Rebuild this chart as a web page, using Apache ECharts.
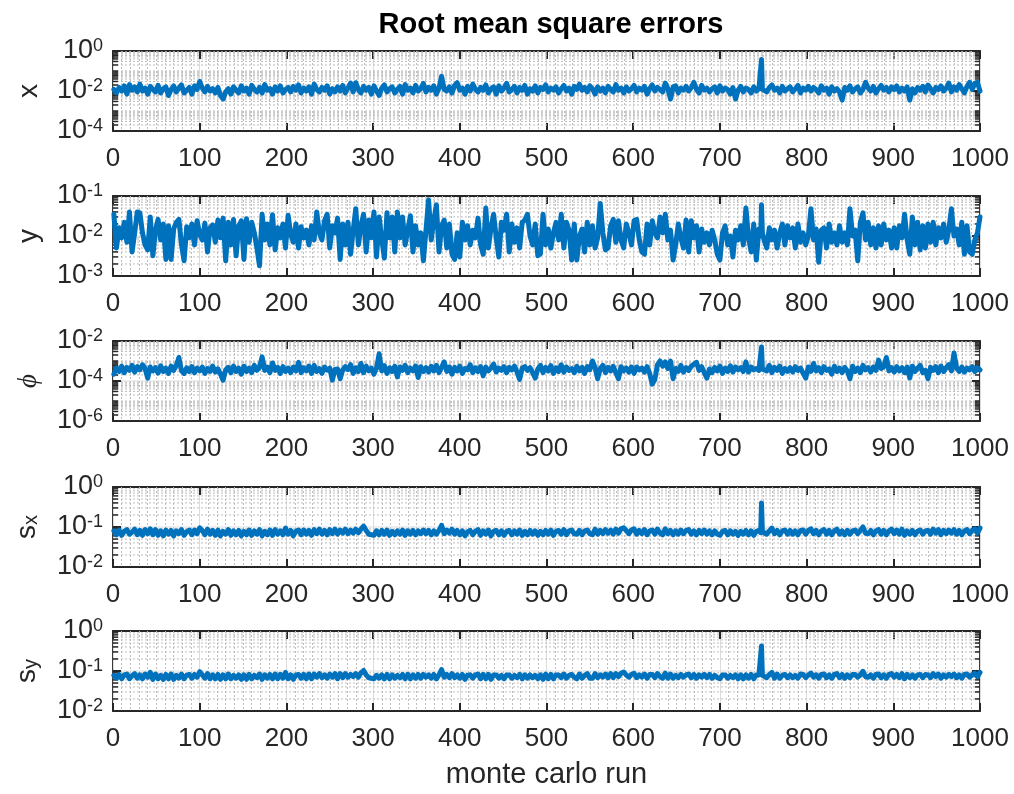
<!DOCTYPE html>
<html>
<head>
<meta charset="utf-8">
<script src="https://cdn.jsdelivr.net/npm/echarts@6/dist/echarts.min.js"></script>
<style>
  html, body { margin: 0; padding: 0; background: #fff; }
  #chart-container { width: 1014px; height: 794px; }
</style>
</head>
<body>
<div id="chart-container"></div>
<script>
// monte carlo run of every sample
var runs = [
  1,4,7,10,13,16,19,22,25,28, 31,34,37,40,43,46,49,52,55,58,
  61,64,67,70,73,76,79,82,85,88, 91,94,97,100,103,106,109,112,115,118,
  121,124,127,130,133,136,139,142,145,148, 151,154,157,160,163,166,169,172,175,178,
  181,184,187,190,193,196,199,202,205,208, 211,214,217,220,223,226,229,232,235,238,
  241,244,247,250,253,256,259,262,265,268, 271,274,277,280,283,286,289,292,295,298,
  301,304,307,310,313,316,319,322,325,328, 331,334,337,340,343,346,349,352,355,358,
  361,364,367,370,373,376,379,382,385,388, 391,394,397,400,403,406,409,412,415,418,
  421,424,427,430,433,436,439,442,445,448, 451,454,457,460,463,466,469,472,475,478,
  481,484,487,490,493,496,499,502,505,508, 511,514,517,520,523,526,529,532,535,538,
  541,544,547,550,553,556,559,562,565,568, 571,574,577,580,583,586,589,592,595,598,
  601,604,607,610,613,616,619,622,625,628, 631,634,637,640,643,646,649,652,655,658,
  661,664,667,670,673,676,679,682,685,688, 691,694,697,700,703,706,709,712,715,718,
  721,724,727,730,733,736,739,742,745,747,748,749, 751,754,757,760,763,766,769,772,775,778,
  781,784,787,790,793,796,799,802,805,808, 811,814,817,820,823,826,829,832,835,838,
  841,844,847,850,853,856,859,862,865,868, 871,874,877,880,883,886,889,892,895,898,
  901,904,907,910,913,916,919,922,925,928, 931,934,937,940,943,946,949,952,955,958,
  961,964,967,970,973,976,979,982,985,988, 991,994,997,1000];

// RMSE of x, units of 1e-3
var xErr = [
  12,8,15,10,18,7,21,11,16,9, 22,10,14,7,17,12,9,19,8,13,
  16,6,12,18,9,14,20,8,11,15, 7,18,12,30,14,9,17,10,13,8,
  15,6,4,9,13,7,16,11,8,18, 10,14,7,19,12,9,15,8,21,11,
  13,7,16,10,18,8,12,15,9,17, 11,20,8,14,10,16,7,22,12,9,
  15,11,18,7,13,9,16,10,19,8, 14,25,9,26,12,8,17,11,15,7,
  18,10,6,14,20,9,13,16,8,12, 17,7,21,11,14,8,19,10,13,24,
  9,15,11,18,7,14,55,12,10,16, 8,19,26,11,14,7,17,10,22,12,
  9,15,11,20,8,13,16,7,18,10, 14,24,9,12,17,8,15,11,19,7,
  13,10,18,8,15,12,20,9,14,11, 16,8,13,19,10,14,7,17,12,22,
  11,15,9,18,13,7,16,10,14,8, 17,12,9,21,11,14,8,16,10,13,
  19,9,14,11,17,7,13,20,10,15, 12,9,25,13,4,16,18,8,14,11,
  17,10,15,27,12,8,19,11,14,9, 13,16,8,18,10,14,12,7,15,4,
  11,17,9,14,12,8,16,10,13,11,380,12, 12,9,15,20,11,14,8,17,10,13,
  16,9,13,19,8,14,11,17,10,15, 12,8,18,11,14,7,16,10,13,9,
  3.5,15,11,18,9,13,16,8,12,27, 14,10,17,8,13,19,11,15,9,16,
  12,18,9,14,10,16,3.5,13,8,15, 11,17,9,20,13,8,15,12,18,10,
  14,25,9,16,11,21,13,8,17,27, 12,24,27,10];

// RMSE of y, units of 1e-3
var yErr = [
  35,5,16,9,22,7,40,4,12,40, 38,12,6,4.5,30,3.2,14,26,8,20,
  2.6,18,2.6,15,22,26,6,2.4,17,9, 20,6,24,11,8,21,4,16,19,7,
  25,9,28,2.4,22,6,26,3.2,18,24, 2.6,27,7,22,12,5,1.8,35,8,20,
  6,34,4.5,16,9,20,5,33,11,7, 20,5,17,9,14,6,18,8,40,12,
  8,24,35,5,18,12,28,2.6,20,6, 22,3.5,14,48,6,18,35,4,25,9,
  40,3,30,8,2.8,38,9,30,4,40, 9,30,6,14,32,4,18,6,12,2.4,
  14,80,8,25,60,4,18,25,5,20, 3.5,2.6,12,3,22,8,18,6,14,9,
  28,6,3.5,50,5,16,35,9,3,22, 14,35,4,20,7,16,5,22,25,35,
  10,6,20,3.2,3.6,35,6,15,5,12, 22,8,35,5,22,14,2.5,20,2.5,10,
  15,4,22,6,18,5,9,65,12,4.5, 5,18,26,7,24,8,5,20,12,6,
  24,26,8,4,3.5,20,6,24,12,9, 30,12,35,8,14,2.5,6,20,9,5,
  25,4,24,9,18,4,15,7,12,6, 14,8,3.5,2.5,12,18,6,10,3,14,
  8,18,6,50,9,4,20,2.5,15,10,60,12, 8,5,16,8,14,5,12,20,6,18,
  9,16,5,20,7,12,6,10,48,8, 15,2.2,14,16,5,20,7,12,6,18,
  7,12,6,48,10,14,2.4,22,38,8, 22,6,16,5,18,6,20,8,14,5,
  16,5,18,9,35,8,3.5,30,6,22, 4.5,18,5,20,7,22,6,16,9,20,
  7,14,48,10,15,6,22,3.5,18,4, 3.5,8,12,30];

// RMSE of phi, units of 1e-4
var phiErr = [
  2.2,4.5,3.0,5.5,2.6,4.8,3.4,6.0,2.8,5.2, 3.6,6.5,4.2,1.4,5.0,3.2,4.6,2.5,5.8,3.0,
  4.4,2.4,5.5,3.4,6.0,15,3.2,2.4,4.6,3.0, 5.2,2.6,4.4,3.2,5.0,2.4,4.2,3.0,5.5,2.8,
  4.0,2.2,1.1,3.6,4.8,2.6,5.5,3.0,4.4,2.2, 5.5,3.0,4.4,2.6,6.0,3.4,4.8,16,3.4,5.0,
  2.6,8,3.4,4.8,2.4,5.2,3.0,4.4,2.6,5.0, 3.2,8.5,2.6,4.6,3.2,5.5,2.4,6.0,3.0,4.2,
  2.4,5.0,3.5,4.4,1.1,3.8,4.0,1.3,3.6,5.2, 3.8,6.5,2.4,4.6,3.0,7.5,2.6,5.5,3.2,4.4,
  2.2,4.5,23,3.2,5.8,2.4,4.6,3.0,5.4,1.6, 5.0,3.4,6.0,2.6,4.4,3.2,5.6,1.5,5.2,3.0,
  4.6,2.8,5.4,3.2,6.0,2.6,4.8,9,3.0,5.0, 2.2,4.8,3.2,5.5,2.4,4.2,3.6,6.5,2.6,4.6,
  3.0,5.2,1.8,5.0,3.2,4.4,7,2.8,4.4,3.4, 5.2,2.6,4.8,3.6,5.6,2.8,1.2,4.4,5.2,3.4,
  4.6,2.6,1.4,4.0,6.0,2.6,4.8,3.2,5.8,2.4, 4.6,3.0,6.5,2.8,5.0,3.4,4.2,2.6,5.4,3.2,
  4.8,2.4,5.2,3.6,10,4.8,1.3,4.2,6.0,2.6, 4.8,3.2,5.4,2.6,1.3,5.2,3.2,4.4,2.8,5.0,
  2.4,5.0,3.6,4.4,2.8,5.2,2.4,0.7,1.2,6.5, 10,5.5,9,4.2,10,1.3,4.2,3.0,6.0,2.8,
  4.6,3.4,5.5,7,8.5,3.4,5.2,2.6,1.4,4.0, 2.6,4.8,3.2,5.5,2.4,4.4,3.0,5.8,2.8,5.0,
  3.6,4.6,3.0,9,2.8,5.0,3.6,4.2,3.4,4.2,50,4.0, 5.0,3.2,6.0,2.6,4.8,3.4,5.5,2.4,4.2,3.0,
  4.6,2.8,5.2,3.4,4.4,2.4,1.4,5.0,3.0,7.5, 3.2,4.6,2.6,5.2,3.4,4.0,2.2,5.5,3.0,4.4,
  2.6,4.8,3.2,1.3,5.5,3.0,4.4,2.6,6.0,3.6, 4.6,2.8,5.0,3.4,11,4.2,5.2,15,3.2,4.6,
  2.8,5.2,3.2,4.6,2.6,5.0,1.4,5.5,3.0,4.4, 6.0,2.6,3.4,1.3,4.8,3.4,5.2,2.6,5.6,3.0,
  4.6,6.5,3.2,25,4.4,3.0,5.0,2.8,4.4,3.6, 5.2,3.0,4.6,3.6];

// RMSE of s_x, units of 1e-2
var sxErr = [
  8.0,6.4,8.4,6.2,7.8,8.6,6.6,7.4,8.8,6.4, 8.2,6.2,8.6,6.8,9.0,6.4,8.6,6.2,8.0,6.0,
  8.4,6.6,8.2,6.0,8.0,6.8,8.6,6.2,7.6,8.4, 6.4,8.4,6.8,9.5,8.2,6.4,8.8,6.6,8.2,6.2,
  8.4,6.0,7.8,6.6,8.6,6.2,8.0,6.4,8.2,6.0, 7.8,6.4,8.4,6.2,8.0,6.6,8.6,6.0,7.8,6.4,
  8.4,6.2,8.6,6.6,8.0,6.4,9.4,6.6,8.2,6.0, 7.8,8.4,6.4,8.4,6.6,8.2,6.2,8.6,6.8,8.8,
  6.6,8.2,6.4,8.6,6.8,8.8,6.6,8.4,7.0,8.8, 6.8,8.4,7.0,8.8,7.2,8.8,10.5,8.2,6.6,6.4,
  6.2,8.0,6.4,8.2,6.6,8.4,6.2,7.8,6.4,8.0, 6.6,8.4,6.2,8.0,6.6,8.2,6.4,8.0,6.8,8.4,
  6.8,8.2,6.4,8.0,6.6,8.2,11,6.8,8.4,7.0, 8.8,6.6,8.2,6.4,8.0,6.0,7.6,8.2,6.4,7.8,
  8.6,6.2,8.0,6.6,8.4,6.0,7.8,8.2,6.4,8.0, 6.2,7.8,8.2,6.4,8.0,6.6,8.4,6.2,7.8,6.4,
  8.2,6.6,8.0,6.2,7.8,6.4,8.2,6.6,8.4,6.2, 7.8,8.2,6.6,8.6,6.4,8.0,8.4,6.8,6.6,8.2,
  6.4,8.0,8.4,6.8,6.4,8.8,6.6,8.2,6.8,8.6, 7.0,8.4,6.6,8.8,7.0,9.0,9.6,8.2,6.8,8.4,
  9.0,6.6,8.2,6.8,8.6,6.4,8.0,8.4,6.6,8.8, 7.0,6.4,9.0,6.8,8.2,6.4,8.0,6.6,8.4,6.8,
  8.2,8.6,6.6,8.0,6.4,8.2,6.8,8.4,6.6,8.0, 6.4,8.0,6.6,6.2,7.8,8.2,6.4,8.0,6.6,7.8,
  6.2,7.8,6.6,8.2,6.4,8.0,6.2,7.8,8.2,7.2,40,7.6, 8.0,6.6,8.0,9.4,6.8,8.2,6.4,8.0,8.4,6.6,
  8.2,6.6,8.0,6.4,8.2,8.4,6.6,8.2,9.0,6.8, 8.2,6.4,8.0,8.6,6.6,8.2,6.4,8.0,8.8,6.6,
  8.0,6.4,8.2,6.6,8.0,8.4,6.8,8.2,10,7.0, 6.8,8.2,6.4,8.0,8.6,6.6,8.2,6.4,8.0,8.8,
  6.8,8.4,6.6,8.8,6.2,8.0,6.6,8.2,6.4,7.8, 8.4,6.6,8.0,8.2,6.6,8.8,7.0,8.6,6.4,8.2,
  6.8,8.4,7.0,8.6,6.6,8.2,6.4,8.0,8.6,6.8, 8.2,9.0,7.0,9.4];

// RMSE of s_y, units of 1e-2
var syErr = [
  7.8,6.6,8.2,6.4,8.0,8.4,6.4,7.6,8.6,6.6, 8.0,6.4,8.4,7.0,9.2,6.2,8.4,6.4,7.8,6.2,
  8.2,6.4,8.4,6.2,7.8,6.6,8.4,6.4,7.8,8.2, 6.6,8.2,7.0,9.6,8.0,6.6,8.6,6.4,8.0,6.4,
  8.2,6.2,8.0,6.4,8.4,6.4,7.8,6.6,8.0,6.2, 8.0,6.2,8.2,6.4,7.8,6.8,8.4,6.2,8.0,6.6,
  8.2,6.4,8.4,6.4,8.2,6.6,9.2,6.4,8.0,6.2, 8.0,8.2,6.6,8.2,6.4,8.4,6.4,8.4,7.0,8.6,
  6.8,8.0,6.6,8.4,7.0,8.6,6.4,8.6,6.8,8.6, 7.0,8.2,7.2,8.6,7.0,9.0,10.3,8.0,6.8,6.6,
  6.4,7.8,6.6,8.0,6.4,8.2,6.4,8.0,6.6,7.8, 6.8,8.2,6.4,8.2,6.4,8.0,6.6,8.2,6.6,8.2,
  7.0,8.0,6.6,8.2,6.4,8.0,10.8,7.0,8.2,6.8, 8.6,6.8,8.0,6.6,8.2,6.2,7.8,8.0,6.6,8.0,
  8.4,6.4,8.2,6.4,8.2,6.2,8.0,8.0,6.6,7.8, 6.4,8.0,8.0,6.6,7.8,6.8,8.2,6.4,8.0,6.6,
  8.0,6.8,7.8,6.4,8.0,6.2,8.4,6.4,8.2,6.4, 8.0,8.0,6.8,8.4,6.6,7.8,8.2,7.0,6.4,8.4,
  6.6,7.8,8.6,6.6,6.6,8.6,6.8,8.0,7.0,8.4, 6.8,8.6,6.8,8.6,7.2,8.8,9.4,8.0,7.0,8.2,
  8.8,6.8,8.0,7.0,8.4,6.6,8.2,8.2,6.8,8.6, 7.2,6.6,8.8,6.6,8.4,6.6,7.8,6.8,8.2,7.0,
  8.0,8.4,6.8,8.2,6.6,8.0,7.0,8.2,6.8,8.2, 6.6,7.8,6.8,6.4,8.0,8.0,6.6,7.8,6.8,8.0,
  6.4,8.0,6.4,8.0,6.6,8.2,6.4,8.0,8.0,7.4,42,7.8, 7.8,6.8,8.2,9.2,6.6,8.4,6.6,7.8,8.2,6.8,
  8.0,6.8,7.8,6.6,8.4,8.2,6.8,8.0,8.8,7.0, 8.0,6.6,8.2,8.4,6.8,8.0,6.6,8.2,8.6,6.8,
  8.2,6.6,8.0,6.8,8.2,8.2,7.0,8.0,9.8,7.2, 7.0,8.0,6.6,8.2,8.4,6.8,8.0,6.6,8.2,8.6,
  7.0,8.2,6.8,8.6,6.4,8.2,6.8,8.0,6.6,8.0, 8.2,6.8,8.2,8.0,6.8,8.6,7.2,8.4,6.6,8.0,
  7.0,8.2,7.2,8.4,6.8,8.0,6.6,8.2,8.4,7.0, 8.0,8.8,7.2,9.2];

// y-axis decades (exponents), step between labelled decades, units of the arrays
var yExpMin = [-4, -3, -6, -2, -2];
var yExpMax = [0, -1, -2, 0, 0];
var yLabelStep = [2, 1, 2, 1, 1];
var yUnits = [1e-3, 1e-3, 1e-4, 1e-2, 1e-2];
var yNames = ['{n|x}', '{n|y}', '{p|\u03d5}', '{n|s}{sub|x}', '{n|s}{sub|y}'];
var seriesVals = [xErr, yErr, phiErr, sxErr, syErr];

var dom = document.getElementById('chart-container');
var myChart = echarts.init(dom, null, { renderer: 'canvas', useDirtyRect: false });

var FONT = 'Liberation Sans, Arial, Helvetica, sans-serif';
var TXT = '#262626';
var tops = [51, 196, 341, 487, 631];

var grids = [], xAxes = [], yAxes = [], series = [];

// horizontal grid lines and left/right ticks of a log axis
function tickRender(params, api) {
  var v = api.value(1);
  var major = api.value(2) === 1;
  var edge = api.value(3) === 1;
  var a = api.coord([0, v]);
  var b = api.coord([1000, v]);
  var len = major ? 8 : 5;
  var kids = [];
  if (!edge) {
    kids.push({
      type: 'line',
      shape: { x1: a[0], y1: a[1], x2: b[0], y2: b[1] },
      style: major ? { stroke: '#dcdcdc', lineWidth: 1 } : { stroke: '#bebebe', lineWidth: 1, lineDash: [2, 2] }
    });
  }
  kids.push({ type: 'line', shape: { x1: a[0], y1: a[1], x2: a[0] + len, y2: a[1] }, style: { stroke: TXT, lineWidth: major ? 2 : 1.5 } });
  kids.push({ type: 'line', shape: { x1: b[0] - len, y1: b[1], x2: b[0], y2: b[1] }, style: { stroke: TXT, lineWidth: major ? 2 : 1.5 } });
  return { type: 'group', children: kids };
}

for (var i = 0; i < 5; i++) {
  var lo = yExpMin[i], hi = yExpMax[i], step = yLabelStep[i];
  grids.push({
    left: 113, right: 34, top: tops[i], height: 80,
    containLabel: false, outerBoundsMode: 'none',
    show: true, borderColor: TXT, borderWidth: 1.8, backgroundColor: '#fff', z: 0
  });
  xAxes.push({
    type: 'value', gridIndex: i, min: 0, max: 1000, interval: 100,
    axisLine: { show: false },
    axisTick: { show: true, inside: true, length: 8, lineStyle: { color: TXT, width: 2 } },
    axisLabel: { fontSize: 26, color: TXT, fontFamily: FONT, margin: 15, formatter: function (v) { return String(v); } },
    splitLine: { show: true, lineStyle: { color: '#dcdcdc', width: 1 } },
    minorTick: { show: false, splitNumber: 10 },
    minorSplitLine: { show: true, lineStyle: { color: '#bebebe', width: 1, type: [2, 2] } },
    name: i === 4 ? 'monte carlo run' : '',
    nameLocation: 'middle', nameGap: 49,
    nameTextStyle: { fontSize: 29, color: TXT, fontFamily: FONT }
  });
  xAxes.push({
    type: 'value', gridIndex: i, min: 0, max: 1000, interval: 100, position: 'top',
    axisLine: { show: false },
    axisTick: { show: true, inside: true, length: 8, lineStyle: { color: TXT, width: 2 } },
    axisLabel: { show: false },
    splitLine: { show: false }
  });
  yAxes.push({
    type: 'log', logBase: 10, gridIndex: i,
    min: Math.pow(10, lo), max: Math.pow(10, hi),
    axisLine: { show: false },
    axisTick: { show: false },
    splitLine: { show: false },
    axisLabel: {
      margin: 10,
      formatter: (function (st) {
        return function (val) {
          var e = Math.round(Math.log(val) / Math.LN10);
          if (e % st !== 0) return '';
          return '{b|10}{e|' + e + '}';
        };
      })(step),
      rich: {
        b: { fontSize: 27, color: TXT, fontFamily: FONT, lineHeight: 28, verticalAlign: 'middle' },
        e: { fontSize: 18, color: TXT, fontFamily: FONT, lineHeight: 18, verticalAlign: 'top' }
      }
    },
    name: yNames[i], nameLocation: 'middle', nameRotate: 90, nameGap: i >= 3 ? 72 : 70,
    nameTextStyle: {
      rich: {
        n: { fontSize: 28, color: TXT, fontFamily: FONT, lineHeight: 28, verticalAlign: 'top' },
        p: { fontSize: 27, color: TXT, fontFamily: 'Liberation Serif, serif', fontStyle: 'italic', lineHeight: 28 },
        sub: { fontSize: 20, color: TXT, fontFamily: FONT, lineHeight: 20, verticalAlign: 'bottom', padding: [18, 0, 0, 0] }
      }
    }
  });

  // log ticks at 1..9 x 10^k
  var ticks = [];
  for (var e = lo; e <= hi; e++) {
    var isMajor = (e % step === 0) ? 1 : 0;
    var isEdge = (e === lo || e === hi) ? 1 : 0;
    ticks.push([0, Math.pow(10, e), isMajor, isEdge]);
    if (e < hi) {
      for (var m = 2; m <= 9; m++) ticks.push([0, m * Math.pow(10, e), 0, 0]);
    }
  }
  series.push({
    type: 'custom', xAxisIndex: 2 * i, yAxisIndex: i, silent: true, z: 1,
    renderItem: tickRender, data: ticks, encode: { x: 0, y: 1 }
  });

  var vals = seriesVals[i], unit = yUnits[i];
  series.push({
    type: 'line', xAxisIndex: 2 * i, yAxisIndex: i, z: 3,
    showSymbol: false, symbol: 'none', silent: true,
    lineStyle: { color: '#0072BD', width: 5, cap: 'round', join: 'round' },
    data: runs.map(function (r, k) { return [r, vals[k] * unit]; })
  });
}

var option = {
  animation: false,
  backgroundColor: '#fff',
  title: {
    text: 'Root mean square errors', left: 546, top: 5, textAlign: 'center',
    textStyle: { fontSize: 29, fontWeight: 'bold', color: '#000', fontFamily: FONT }
  },
  grid: grids,
  xAxis: xAxes,
  yAxis: yAxes,
  series: series
};

if (option && typeof option === 'object') {
  myChart.setOption(option);
}

window.addEventListener('resize', myChart.resize);
</script>
</body>
</html>
